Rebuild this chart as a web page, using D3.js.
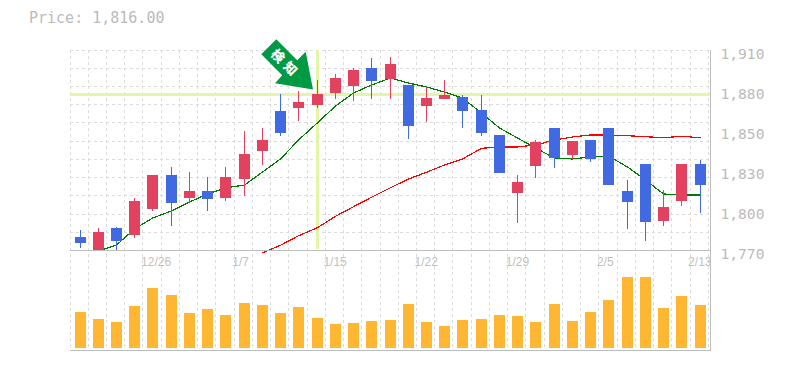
<!DOCTYPE html>
<html lang="ja">
<head>
<meta charset="utf-8">
<script src="https://cdn.jsdelivr.net/npm/d3@7"></script>
<style>
html,body{margin:0;padding:0;background:#fff;}
svg{display:block;}
text{fill:#bbbbbb;opacity:.99;}
</style>
</head>
<body>
<div id="chart"></div>
<script>
const dates = ["12/19","12/20","12/21","12/25","12/26","12/27","12/28","12/31","1/4","1/7","1/8","1/9","1/10","1/11","1/15","1/16","1/17","1/18","1/21","1/22","1/23","1/24","1/25","1/28","1/29","1/30","1/31","2/1","2/4","2/5","2/6","2/7","2/8","2/12","2/13"];
const openP  = [1779.1,1768,1785.4,1780.5,1798.7,1822.5,1806.4,1811.3,1806.4,1819.7,1839.3,1867.3,1869.4,1871.5,1879.9,1884.8,1897.4,1889.7,1885.5,1870.8,1875.7,1877.1,1868,1850.5,1809.9,1828.8,1855.4,1836.5,1847,1855.4,1811.3,1830.2,1790.3,1804.3,1830.2];
const highP  = [1784,1785.4,1786.1,1806.4,1822.5,1828.1,1824.6,1821.1,1828.1,1853.3,1855.4,1879.2,1881.3,1889,1893.2,1897.4,1904.4,1905.1,1885.5,1884.1,1889,1878.5,1878.5,1850.5,1822.5,1847,1855.4,1846.3,1847,1855.4,1819,1830.2,1812,1830.2,1833];
const lowP   = [1771.4,1766,1768,1778.4,1797.3,1786.8,1803.6,1797.3,1804.3,1807.8,1829.5,1849.8,1860.3,1869.4,1875.7,1874.3,1875.7,1875.7,1847.7,1859.6,1875.7,1855.4,1849.8,1823.9,1788.9,1820.4,1827.4,1833.7,1831.6,1815.5,1784.7,1776.3,1786.8,1800.8,1795.9];
const closeP = [1774.9,1782.6,1776.3,1804.3,1822.5,1802.9,1811.3,1805.7,1821.1,1837.2,1847,1851.9,1873.6,1879.2,1890.4,1896,1888.3,1900.2,1856.8,1876.4,1878.5,1867.3,1851.9,1823.9,1817.6,1845.6,1834.4,1846.3,1833.7,1815.5,1803.6,1789.6,1800.1,1830.2,1815.5];
const volume = [36,29,26,42,60,53,35,39,33,45,43,35,41,30,24,25,27,28,44,26,22,28,29,33,32,26,44,27,36,48,71,71,40,52,43];
const maShort = [null,1769.3,1773.5,1784.7,1792.4,1797.3,1803.6,1809.2,1813.4,1815.5,1824.6,1833.7,1847,1859.1,1870.8,1879.9,1885.5,1890.4,1886.9,1884.1,1880.6,1876.4,1865.9,1855.4,1848.4,1841.4,1834.4,1833.7,1835.1,1835.8,1828.1,1819,1809.2,1808.5,1808.5];
const maLong = [null,null,null,null,null,null,null,null,null,null,1768.1,1773.3,1780,1785.6,1793.6,1800.3,1806.9,1813.6,1819.7,1824.4,1829.5,1833.7,1841.2,1842.1,1842.1,1843.5,1847,1849.1,1850.5,1850.5,1850,1849.3,1848.6,1849.6,1848.6];
const xTickLabels = ["12/26","1/7","1/15","1/22","1/29","2/5","2/13"];
const yTickValues = [1770,1798,1826,1854,1882,1910];
const yTickLabels = ["1,770","1,800","1,830","1,850","1,880","1,910"];
const titleText = "Price: 1,816.00";
const markDate = "1/11";
const markPrice = 1878.9;
const markLabel = ["検","知"];

const W = 785, H = 370;
const L = 70, R = 710, B1 = 250, T1 = 50, B2 = 350;
const RED = "#e2425f", BLUE = "#4169e1", ORANGE = "#ffb733", HL = "#e3f6a8", GRID = "#dcdcdc", AXIS = "#bdbdbd";

const x = d3.scaleBand().domain(dates).range([L, 708.24]);
const left = d => Math.floor(x(d));
const cx = d => left(d) + 10.5;
const y = d3.scaleLinear().domain([1770, 1910]).range([B1, T1]);
const v = d3.scaleLinear().domain([0, 98]).range([348, B1]);

const svg = d3.select("#chart").append("svg").attr("width", W).attr("height", H).attr("viewBox", `0 0 ${W} ${H}`);
svg.append("defs").append("clipPath").attr("id", "plot").append("rect").attr("x", L).attr("y", T1).attr("width", R - L).attr("height", B1 - T1 + 1);

// grid
const gridG = svg.append("g").attr("stroke", GRID).attr("stroke-dasharray", "3,3").attr("shape-rendering", "crispEdges");
gridG.selectAll("line.v").data(dates.concat(["end"])).join("line")
  .attr("class", "v")
  .attr("x1", (d, i) => Math.floor(L + i * x.step()) + .5)
  .attr("x2", (d, i) => Math.floor(L + i * x.step()) + .5)
  .attr("y1", T1).attr("y2", B2);
gridG.selectAll("line.h").data(d3.range(12)).join("line")
  .attr("class", "h")
  .attr("x1", L).attr("x2", R)
  .attr("y1", i => Math.floor(T1 + i * x.step()) + .5)
  .attr("y2", i => Math.floor(T1 + i * x.step()) + .5);

// x labels
const xAxis = svg.append("g").attr("transform", `translate(0,${B1})`).call(d3.axisBottom(x).tickValues(xTickLabels).tickSize(0));
xAxis.select(".domain").remove();
xAxis.selectAll("text")
  .attr("text-anchor", "start")
  .attr("x", -11).attr("y", 16).attr("dy", 0)
  .attr("font-family", "'Liberation Sans', Arial, sans-serif").attr("font-size", 12).style("fill", "#c0c0c0");

// y labels
const yAxis = svg.append("g").attr("transform", `translate(${R},0)`)
  .call(d3.axisRight(y).tickValues(yTickValues).tickSize(0).tickFormat((d, i) => yTickLabels[i]));
yAxis.select(".domain").remove();
yAxis.selectAll("text")
  .attr("x", 10.5).attr("dy", 0)
  .attr("y", (d, i) => [253, 213, 173, 133, 93, 53][i] - y(d) + 5)
  .attr("font-family", "'DejaVu Sans Mono', monospace").attr("font-size", 14.6).style("fill", "#bbbbbb");

// highlight
svg.append("rect").attr("x", L).attr("width", R - L).attr("y", Math.round(y(markPrice)) - 1).attr("height", 3).attr("fill", HL);
svg.append("rect").attr("x", cx(markDate) - 1.5).attr("width", 3).attr("y", T1).attr("height", B1 - T1 - 1).attr("fill", HL);

// moving averages (not clipped: the long average dips just under the axis at its start)
const plot = svg.append("g").attr("clip-path", "url(#plot)");
const lines = svg.append("g");
const line = d3.line().defined(d => d != null).x((d, i) => cx(dates[i])).y(d => y(d));
lines.append("path").attr("d", line(maShort)).attr("fill", "none").attr("stroke", "#007a00").attr("stroke-width", 1.2).attr("shape-rendering", "crispEdges");
lines.append("path").attr("d", line(maLong)).attr("fill", "none").attr("stroke", "#ff0000").attr("stroke-width", 1.2).attr("shape-rendering", "crispEdges");
plot.raise();

// candles
const idx = d3.range(dates.length);
const col = i => closeP[i] >= openP[i] ? RED : BLUE;
plot.append("g").selectAll("rect").data(idx).join("rect")
  .attr("x", i => left(dates[i]) + 10).attr("width", 1)
  .attr("y", i => Math.round(y(highP[i])))
  .attr("height", i => Math.round(y(lowP[i])) - Math.round(y(highP[i])))
  .attr("fill", col);
plot.append("g").selectAll("rect").data(idx).join("rect")
  .attr("x", i => left(dates[i]) + 5).attr("width", 11)
  .attr("y", i => Math.round(y(Math.max(openP[i], closeP[i]))))
  .attr("height", i => Math.round(y(Math.min(openP[i], closeP[i]))) - Math.round(y(Math.max(openP[i], closeP[i]))))
  .attr("fill", col);

// volume
svg.append("g").selectAll("rect").data(idx).join("rect")
  .attr("x", i => left(dates[i]) + 5).attr("width", 11)
  .attr("y", i => Math.round(v(volume[i])))
  .attr("height", i => 348 - Math.round(v(volume[i])))
  .attr("fill", ORANGE);

// axis lines
const ax = svg.append("g").attr("stroke", AXIS).attr("shape-rendering", "crispEdges");
ax.append("line").attr("x1", L).attr("x2", R + 1).attr("y1", B1 + .5).attr("y2", B1 + .5);
ax.append("line").attr("x1", L).attr("x2", R + 1).attr("y1", B2 + .5).attr("y2", B2 + .5);
ax.append("line").attr("x1", R + .5).attr("x2", R + .5).attr("y1", T1).attr("y2", B2 + 1);

// arrow marker, anchored on the highlighted point
const tipX = cx(markDate) - 4.5, tipY = y(markPrice) - 5;
const arrow = svg.append("g").attr("transform", `translate(${tipX},${tipY})`);
arrow.append("polygon").attr("fill", "#009944")
  .attr("points", [[-36.7,-50.2],[-15.8,-29.3],[-7.3,-37.8],[0,0],[-38,-6.2],[-30.8,-14.3],[-51.7,-35.2]].map(p => p.join(",")).join(" "));
markLabel.forEach((c, i) => {
  arrow.append("text").attr("transform", `translate(${-35 + i * 12.5},${-33.5 + i * 12.5}) rotate(45)`)
    .attr("text-anchor", "middle").attr("dy", "0.36em")
    .attr("font-family", "'Noto Sans CJK JP', sans-serif").attr("font-weight", 900).attr("font-size", 13)
    .style("fill", "#fff").text(c);
});

// title
svg.append("text").attr("x", 29).attr("y", 23).attr("font-family", "'DejaVu Sans Mono', monospace").attr("font-size", 15).style("fill", "#bbbbbb").text(titleText);
</script>
</body>
</html>
